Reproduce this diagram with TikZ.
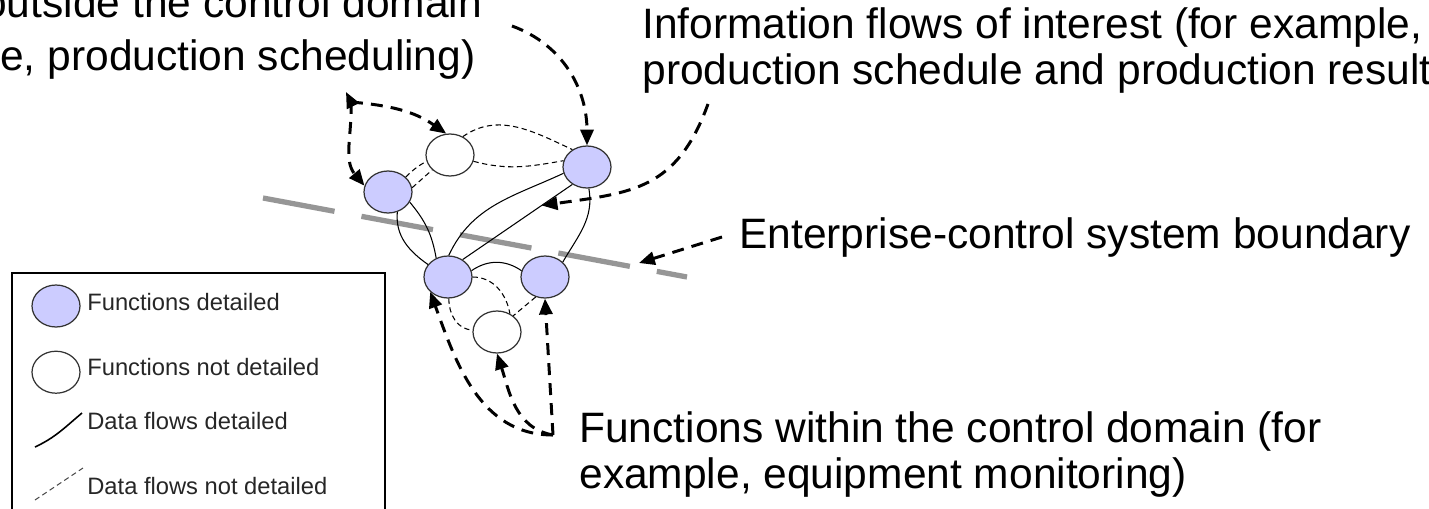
\documentclass[tikz,border=0pt]{standalone}
\usepackage{fontspec}
\setmainfont{Liberation Sans}
\usetikzlibrary{arrows.meta, positioning, shapes}

\definecolor{funcblue}{RGB}{204,204,255}
\definecolor{bndgray}{RGB}{150,150,150}

\begin{document}
\begin{tikzpicture}[
    x=0.02cm, y=0.02cm,
    >={Triangle[length=9pt,width=7.5pt]},
    fdet/.style={draw=black!80, ellipse, line width=0.7pt, fill=funcblue,
    minimum width=0.96cm, minimum height=0.84cm, inner sep=0pt},
    fnot/.style={fdet, fill=white},
    dflow/.style={line width=0.6pt},
    nflow/.style={line width=0.6pt, dash pattern=on 3pt off 2pt},
    pointer/.style={line width=1.7pt, dash pattern=on 6.8pt off 4.6pt},
    bound/.style={line width=3pt, draw=bndgray, dash pattern=on 41.4pt off 15.6pt},
    callout/.style={inner sep=0pt, anchor=base west,
    font=\fontsize{24.2pt}{28pt}\selectfont},
    keytext/.style={inner sep=0pt, anchor=base west, text=black!85,
    font=\fontsize{13.5pt}{16pt}\selectfont}
    ]
    \useasboundingbox (0,0) rectangle (1429,508);

    % system boundary
    \coordinate (bd1) at (263,310);
    \coordinate (bd2) at (687,231);
    \draw[bound] (bd1) -- (bd2);

    % functions
    \node[fdet] (A) at (388,316) {};
    \node[fnot] (B) at (450,353) {};
    \node[fdet] (C) at (587,341) {};
    \node[fdet] (D) at (448,231) {};
    \node[fdet] (E) at (545,231) {};
    \node[fnot] (F) at (497,176) {};

    % data flows
    \path[dflow]
    (A.-25)  edge[out=-50, in=100]  (D.122)
    (A.-65)  edge[out=-95, in=145]  (D.148)
    (D.88)   edge[out=65,  in=205]  (C.195)
    (C.-85)  edge[out=-80, in=60]   (E.40)
    (D.15)   edge[out=35,  in=145]  (E.165)
    ;
    \draw[dflow] (D.50) -- coordinate[pos=0.72] (df) (C.-130);
    \path[nflow]
    (A.40)   edge[bend left=8]      (B.195)
    (A.10)   edge                   (B.-140)
    (B.55)   edge[out=35,  in=155]  (C.130)
    (B.-15)  edge[out=-15, in=190]  (C.165)
    (D.-88)  edge[out=-90, in=180]  (F.175)
    (D.0)    edge[out=0,   in=100]  (F.55)
    (E.-115) edge                   (F.45)
    ;

    % callout arrows
    \coordinate (hubL)  at (351,406);
    \coordinate (lblL)  at (346,416);
    \coordinate (topL)  at (512,482);
    \coordinate (infoS) at (708,404);
    \coordinate (bndS)  at (722,271);
    \coordinate (bndP)  at (639,245);
    \coordinate (hubB)  at (553,73);
    \path[pointer, ->]
    (hubL)  edge[out=-88, in=130]  (A.165)
    (hubL)  edge[out=-5,  in=145]  (B.100)
    (hubL)  edge                   (lblL)
    (topL)  edge[out=-20, in=90]   (C.north)
    (infoS) edge[out=-110, in=8, looseness=1.2] (df)
    (bndS)  edge                   (bndP)
    (hubB)  edge[out=180, in=-70]  (D.-140)
    (hubB)  edge[out=170, in=-72]  (F.south)
    (hubB)  edge                   (E.south)
    ;

    % labels
    \node[callout] (outL1)   at (-17,490) {outside the control domain};
    \node[callout] (outL2)   at (0,438)   {e, production scheduling)};
    \node[callout] (info1)   at (642,469) {Information flows of interest (for example,};
    \node[callout] (info2)   at (642,423) {production schedule and production result};
    \node[callout] (bnd)     at (739,260) {Enterprise-control system boundary};
    \node[callout] (within1) at (579,66)  {Functions within the control domain (for};
    \node[callout] (within2) at (579,20)  {example, equipment monitoring)};

    % legend
    \draw[line width=0.75pt] (12,-5) |- (385,235) -- (385,-5);
    \node[fdet] (k1) at (56,202) {};
    \node[fnot] (k2) [below=0.46cm of k1] {};
    \coordinate (k3a) at (35,61);
    \coordinate (k3b) at (82,95);
    \draw[line width=0.9pt] (k3a) to[out=25, in=220] (k3b);
    \coordinate (k4a) at (35,8);
    \coordinate (k4b) at (83,40);
    \draw[nflow, black!70] (k4a) -- (k4b);
    \node[keytext] (k1t) at (87,198) {Functions detailed};
    \node[keytext] (k2t) at (87,133) {Functions not detailed};
    \node[keytext] (k3t) at (87,79)  {Data flows detailed};
    \node[keytext] (k4t) at (87,14)  {Data flows not detailed};
\end{tikzpicture}
\end{document}
